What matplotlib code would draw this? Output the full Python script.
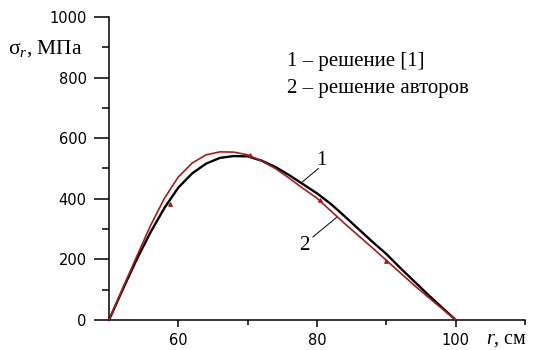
import matplotlib.pyplot as plt

# values
r_vals = [50, 52, 54, 56, 58, 60, 62, 64, 66, 68, 70, 72, 74, 76,
          78, 80, 82, 84, 86, 88, 90, 92, 94, 96, 98, 100]
sigma_1 = [0, 102, 200, 290, 370, 437, 484, 516, 535, 541, 540, 526, 505, 478,
           448, 418, 383, 342, 300, 258, 218, 172, 128, 84, 42, 0]
sigma_2 = [0, 106, 210, 312, 402, 472, 518, 545, 555, 554, 545, 525, 500, 468,
           434, 402, 360, 318, 278, 238, 197, 156, 115, 76, 38, 0]
mark_r = [58.8, 70.4, 80.4, 90.0]
mark_s = [383, 545, 396, 196]

legend_lines = ["1 \u2013 решение [1]", "2 \u2013 решение авторов"]

plt.rcParams["mathtext.fontset"] = "custom"
plt.rcParams["mathtext.rm"] = "Liberation Serif"
plt.rcParams["mathtext.it"] = "Liberation Serif:italic"

red = "#a81c1c"
serif = "Liberation Serif"

fig = plt.figure(figsize=(5.41, 3.5), dpi=100)
ax = fig.add_axes([109 / 541, 30 / 350, 416 / 541, 303 / 350])

ax.plot(r_vals, sigma_1, color="black", lw=1.7, clip_on=False, zorder=3)
ax.plot(r_vals, sigma_2, color=red, lw=1.2, clip_on=False, zorder=4)
ax.plot(mark_r, mark_s, ls="none", marker="^", ms=2.5, color=red, zorder=5)

ax.set_xlim(50, 110)
ax.set_ylim(0, 1000)
ax.set_xticks([60, 80, 100])
ax.set_xticks([70, 90, 110], minor=True)
ax.set_yticks([0, 200, 400, 600, 800, 1000])
ax.set_yticks([100, 300, 500, 700, 900], minor=True)

for s in ["top", "right"]:
    ax.spines[s].set_visible(False)
for s in ["left", "bottom"]:
    ax.spines[s].set_linewidth(1.1)

ax.tick_params(axis="y", which="major", length=10.5, width=1.1, pad=5.5, labelsize=10.5)
ax.tick_params(axis="y", which="minor", length=5, width=1.1)
ax.tick_params(axis="x", which="major", length=5, width=1.1, pad=4.5, labelsize=10.5)
ax.tick_params(axis="x", which="minor", length=3.5, width=1.1)

# curve labels with leader lines
ax.text(80.6, 511, "1", fontsize=15, family=serif, ha="center", va="baseline")
ax.plot([77.9, 80.2], [456, 500], color="black", lw=0.7)
ax.text(78.1, 231, "2", fontsize=15, family=serif, ha="center", va="baseline")
ax.plot([79.4, 82.9], [274, 340], color="black", lw=0.7)

fig.text(287 / 541, 1 - 66 / 350, legend_lines[0], fontsize=15, family=serif, va="baseline")
fig.text(287 / 541, 1 - 93 / 350, legend_lines[1], fontsize=15, family=serif, va="baseline")

fig.text(8 / 541, 1 - 54 / 350, "σ$_{r}$, МПа", fontsize=15.5, family=serif, va="baseline")
fig.text(486 / 541, 1 - 344 / 350, "$r$, см", fontsize=14.5, family=serif, va="baseline")

plt.savefig("out.png", dpi=100)
plt.close()
